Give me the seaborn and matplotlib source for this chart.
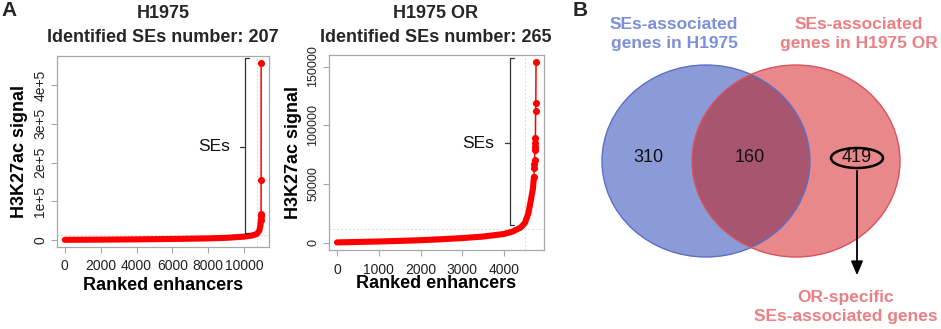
import numpy as np
import pandas as pd
import matplotlib
matplotlib.use("Agg")
import matplotlib.pyplot as plt
from matplotlib.patches import Ellipse
import seaborn as sns

# ---------------- data ----------------
h1975_rank = [0, 2000, 4000, 6000, 8000, 9000, 10000, 10400, 10700, 10850,
              10910, 10935, 10940, 10945, 10948, 10950]
h1975_signal = [300, 800, 1500, 2500, 4000, 5500, 8500, 11000, 15000, 24000,
                38000, 52000, 63000, 67300, 154300, 457000]

or_rank = [0, 500, 1000, 1500, 2000, 2500, 3000, 3500, 4000, 4200, 4400, 4500,
           4580, 4640, 4690, 4715, 4720, 4725, 4730, 4735, 4740, 4745, 4750,
           4755, 4760, 4765]
or_signal = [300, 700, 1100, 1600, 2200, 3000, 4000, 5300, 7500, 9500, 13000,
             17000, 25000, 36000, 46000, 56000, 63400, 66800, 70200, 78700,
             81200, 84600, 88900, 111800, 119200, 153650]

cell_lines = ["H1975", "H1975 OR"]
se_numbers = [207, 265]
cutoff_signal = [13000, 11400]

venn_counts = [310, 160, 419]
venn_labels = ["SEs-associated\ngenes in H1975", "SEs-associated\ngenes in H1975 OR"]
specific_label = "OR-specific\nSEs-associated genes"

# ---------------- style ----------------
sns.set_theme(style="white")
plt.rcParams["font.family"] = ["Liberation Sans", "DejaVu Sans"]

W, H = 941, 329
fig = plt.figure(figsize=(W / 100, H / 100), dpi=100)


def px_axes(l, t, r, b):
    return fig.add_axes([l / W, 1 - b / H, (r - l) / W, (b - t) / H])


panels = [
    dict(box=(57, 56, 269, 247), rank=h1975_rank, sig=h1975_signal,
         xticks=[0, 2000, 4000, 6000, 8000, 10000],
         yticks=[0, 100000, 200000, 300000, 400000],
         ylabs=["0", "1e+5", "2e+5", "3e+5", "4e+5"], ytfs=10,
         br_x=0.887, br_top=0.988, br_bot=0.072, br_mid=0.525, ses_x=0.815,
         ylab_x=-0.175, xlab_y=-0.199, tcx=163),
    dict(box=(329, 55, 544, 250), rank=or_rank, sig=or_signal,
         xticks=[0, 1000, 2000, 3000, 4000],
         yticks=[0, 50000, 100000, 150000],
         ylabs=["0", "50000", "100000", "150000"], ytfs=9,
         br_x=0.844, br_top=0.983, br_bot=0.128, br_mid=0.547, ses_x=0.77,
         ylab_x=-0.163, xlab_y=-0.171, tcx=436),
]

gray = "#A8A8A8"
for i, p in enumerate(panels):
    ax = px_axes(*p["box"])
    rank = np.array(p["rank"])
    sig = np.array(p["sig"])
    n = rank.max()
    df = pd.DataFrame({"rank": rank, "signal": sig})
    dense = df[df["signal"] <= 60000]
    sparse = df[df["signal"] > 50000]

    # cutoff guides
    ax.axvline(n - se_numbers[i], color="#DADADA", lw=0.7, ls=(0, (2, 2)), zorder=1)
    ax.axhline(cutoff_signal[i], color="#DADADA", lw=0.7, ls=(0, (2, 2)), zorder=1)

    sns.lineplot(data=dense, x="rank", y="signal", ax=ax, color="red", linewidth=4.4,
                 solid_capstyle="round", solid_joinstyle="round", zorder=3)
    sns.lineplot(data=df, x="rank", y="signal", ax=ax, color="red", linewidth=1.1,
                 zorder=4)
    sns.scatterplot(data=sparse, x="rank", y="signal", ax=ax, color="red", s=26,
                    linewidth=0, zorder=5)

    ax.set_xlim(-0.04 * n, n * 1.04)
    ymax = sig.max()
    ax.set_ylim(-0.04 * ymax, ymax * 1.04)
    ax.set_xticks(p["xticks"])
    ax.set_xticklabels([str(t) for t in p["xticks"]], fontsize=10)
    ax.set_yticks(p["yticks"])
    ax.set_yticklabels(p["ylabs"], fontsize=p["ytfs"], rotation=90, va="center")
    ax.tick_params(axis="both", which="both", direction="out", length=4,
                   width=0.8, color=gray, labelcolor="#222222", bottom=True, left=True)
    ax.tick_params(axis="x", pad=5)
    ax.tick_params(axis="y", pad=3)
    for s in ax.spines.values():
        s.set_color(gray)
        s.set_linewidth(0.9)

    ax.set_xlabel("Ranked enhancers", fontsize=13, fontweight="bold", color="black")
    ax.set_ylabel("H3K27ac signal", fontsize=13, fontweight="bold", color="black")
    ax.xaxis.label.set_va("center")
    ax.yaxis.label.set_va("center")
    ax.xaxis.set_label_coords(0.5, p["xlab_y"])
    ax.yaxis.set_label_coords(p["ylab_x"], 0.5)

    # SEs bracket
    bx, bt, bb, bm = p["br_x"], p["br_top"], p["br_bot"], p["br_mid"]
    tick = 0.018
    ax.plot([bx + tick, bx, bx, bx + tick], [bt, bt, bb, bb], transform=ax.transAxes,
            color="#333333", lw=0.9, clip_on=False, zorder=6)
    ax.plot([bx - 0.025, bx], [bm, bm], transform=ax.transAxes, color="#333333",
            lw=0.9, clip_on=False, zorder=6)
    ax.text(p["ses_x"], bm, "SEs", transform=ax.transAxes, ha="right", va="center",
            fontsize=12.5, color="#111111")

    fig.text(p["tcx"] / W, 1 - 13 / H, cell_lines[i], ha="center", va="center",
             fontsize=13, fontweight="bold")
    fig.text(p["tcx"] / W, 1 - 37 / H, f"Identified SEs number: {se_numbers[i]}",
             ha="center", va="center", fontsize=13, fontweight="bold")

# panel letters
fig.text(9 / W, 1 - 11 / H, "A", ha="center", va="center", fontsize=15, fontweight="bold")
fig.text(580 / W, 1 - 11 / H, "B", ha="center", va="center", fontsize=15, fontweight="bold")

# ---------------- Venn (pixel coordinates overlay) ----------------
vax = fig.add_axes([0, 0, 1, 1], facecolor="none")
vax.set_xlim(0, W)
vax.set_ylim(H, 0)
vax.axis("off")

blue_fill, red_fill, mid_fill = "#8A9BD8", "#E8888B", "#A8566F"
blue_edge, red_edge = "#5B6FC9", "#D9535E"
cy, ew, eh = 161, 208, 192
bc, rc = 706, 796

vax.add_patch(Ellipse((bc, cy), ew, eh, facecolor=blue_fill, edgecolor="none", zorder=1))
vax.add_patch(Ellipse((rc, cy), ew, eh, facecolor=red_fill, edgecolor="none", zorder=2))
clip = Ellipse((bc, cy), ew, eh, facecolor="none", edgecolor="none", transform=vax.transData)
vax.add_patch(clip)
mid = Ellipse((rc, cy), ew, eh, facecolor=mid_fill, edgecolor="none", zorder=3)
vax.add_patch(mid)
mid.set_clip_path(clip)
vax.add_patch(Ellipse((bc, cy), ew, eh, facecolor="none", edgecolor=blue_edge, lw=1.0, zorder=4))
vax.add_patch(Ellipse((rc, cy), ew, eh, facecolor="none", edgecolor=red_edge, lw=1.0, zorder=5))

for x, v in zip([648, 750, 857], venn_counts):
    vax.text(x, 158, str(v), ha="center", va="center", fontsize=13, color="#111111", zorder=6)
vax.add_patch(Ellipse((857, 158), 52, 20, facecolor="none", edgecolor="black", lw=1.8, zorder=6))

vax.text(674, 34, venn_labels[0], ha="center", va="center", fontsize=12.5,
         fontweight="bold", color="#7C8FD8", linespacing=1.3)
vax.text(859, 34, venn_labels[1], ha="center", va="center", fontsize=12.5,
         fontweight="bold", color="#EB7F83", linespacing=1.3)
vax.text(846, 307, specific_label, ha="center", va="center", fontsize=12.5,
         fontweight="bold", color="#EB7F83", linespacing=1.3)

vax.annotate("", xy=(857, 278), xytext=(857, 168),
             arrowprops=dict(arrowstyle="-|>,head_length=0.7,head_width=0.3",
                             color="black", lw=1.3), zorder=6)

fig.savefig("out.png", dpi=100)
